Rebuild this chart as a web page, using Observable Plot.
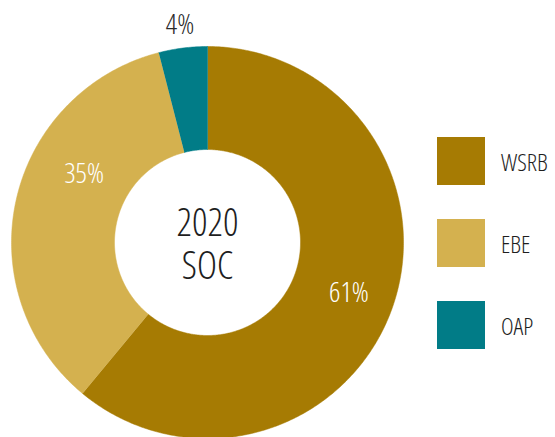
<!DOCTYPE html>
<html>
<head>
<meta charset="utf-8">
<script src="https://cdn.jsdelivr.net/npm/d3@7"></script>
<script src="https://cdn.jsdelivr.net/npm/@observablehq/plot@0.6"></script>
<style>
  html, body { margin: 0; padding: 0; background: #fff; }
  #wrap { position: relative; width: 555px; height: 437px; overflow: hidden;
    font-family: "Open Sans", sans-serif; font-stretch: 80%; font-weight: 350; }
  #wrap svg text { font-family: "Open Sans", sans-serif; font-stretch: 80%; font-weight: 350; }
  #legend { position: absolute; left: 437px; top: 137px; display: flex; flex-direction: column; gap: 34px; }
  .item { display: flex; align-items: center; height: 48px; }
  .sw { width: 48px; height: 48px; }
  .lab { margin-left: 16px; font-size: 24px; color: #1e1e1e; }
</style>
</head>
<body>
<div id="wrap"></div>
<script>
// ---- data ----
const categories = ["WSRB", "EBE", "OAP"];
const shares = [61, 35, 4];
const colors = ["#A67B03", "#D4B14F", "#017C87"];
const shareLabels = ["61%", "35%", "4%"];
const centerTitle = ["2020", "SOC"];

// ---- layout (not data) ----
const W = 555, H = 437, cx = 207, cy = 242, R = 196, innerFrac = 93 / 196;
const labelPlacement = {WSRB: {t: 0.5, r: 0.767, fill: "#fff"}, EBE: {t: 0.63, r: 0.72, fill: "#fff"}, OAP: {t: 0.5, r: 1.12, fill: "#2a2a2a"}};

const total = d3.sum(shares);
const slices = [];
let acc = 0;
categories.forEach((c, i) => {
  const a0 = acc / total * 2 * Math.PI;
  acc += shares[i];
  const a1 = acc / total * 2 * Math.PI;
  slices.push({key: c, a0, a1, label: shareLabels[i]});
});

const pts = [];
for (const s of slices) {
  const n = Math.max(8, Math.ceil((s.a1 - s.a0) / 0.01));
  for (let k = 0; k <= n; k++) {
    const a = s.a0 + (s.a1 - s.a0) * k / n;
    pts.push({key: s.key, x: Math.sin(a), y: Math.cos(a)});
  }
  for (let k = n; k >= 0; k--) {
    const a = s.a0 + (s.a1 - s.a0) * k / n;
    pts.push({key: s.key, x: innerFrac * Math.sin(a), y: innerFrac * Math.cos(a)});
  }
}

const labels = slices.map(s => {
  const p = labelPlacement[s.key];
  const a = s.a0 + (s.a1 - s.a0) * p.t;
  return {text: s.label, x: p.r * Math.sin(a), y: p.r * Math.cos(a), fill: p.fill};
});

const lineGap = 43.5 / R;
const titleRows = centerTitle.map((t, i) => ({text: t, y: (-(i - (centerTitle.length - 1) / 2) * lineGap) - 3 / R}));

const chart = Plot.plot({
  width: W, height: H, margin: 0,
  style: {background: "#fff"},
  x: {domain: [-cx / R, (W - cx) / R], axis: null},
  y: {domain: [-(H - cy) / R, cy / R], axis: null},
  color: {domain: categories, range: colors},
  marks: [
    Plot.line(pts, {x: "x", y: "y", z: "key", fill: "key", stroke: "key", strokeWidth: 0.5, curve: "linear"}),
    Plot.text(labels, {x: "x", y: "y", text: "text", fill: d => d.fill, fontSize: 28}),
    Plot.text(titleRows, {x: 0, y: "y", text: "text", fontSize: 38, fill: "#1e1e1e"})
  ]
});

const wrap = document.getElementById("wrap");
wrap.appendChild(chart);
const legend = document.createElement("div");
legend.id = "legend";
categories.forEach((c, i) => {
  const it = document.createElement("div");
  it.className = "item";
  it.innerHTML = `<div class="sw" style="background:${colors[i]}"></div><div class="lab">${c}</div>`;
  legend.appendChild(it);
});
wrap.appendChild(legend);
</script>
</body>
</html>
